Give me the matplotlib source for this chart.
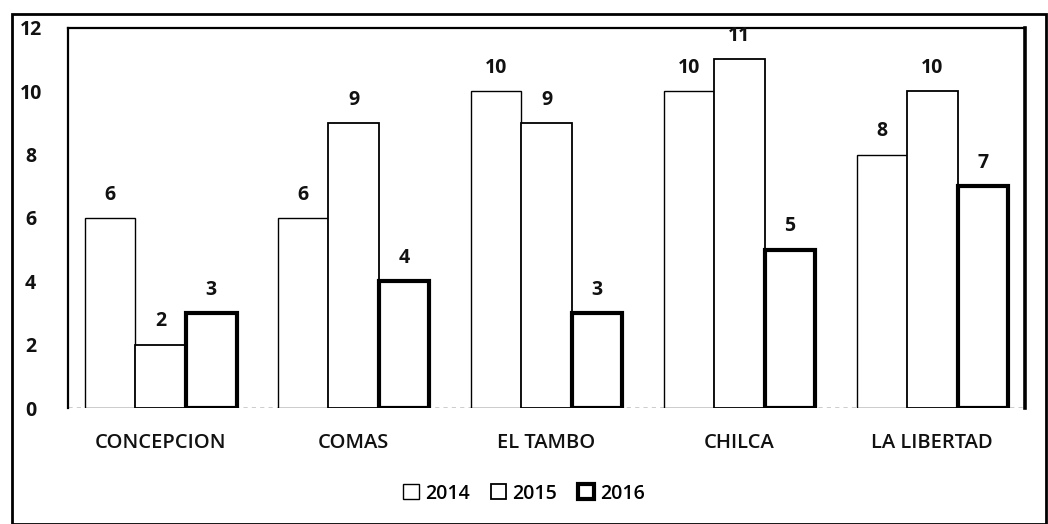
import numpy as np
import matplotlib
matplotlib.use("Agg")
from matplotlib import pyplot as plt
from matplotlib.patches import Rectangle

plt.rcParams['font.family'] = ['Open Sans', 'DejaVu Sans']

categories = ["CONCEPCION", "COMAS", "EL TAMBO", "CHILCA", "LA LIBERTAD"]
years = ["2014", "2015", "2016"]
v2014 = [6, 6, 10, 10, 8]
v2015 = [2, 9, 9, 11, 10]
v2016 = [3, 4, 3, 5, 7]
yticks = [0, 2, 4, 6, 8, 10, 12]

series = [v2014, v2015, v2016]
edge_widths = [1.0, 1.3, 3.0]

fig = plt.figure(figsize=(10.48, 5.24), dpi=100)
ax = fig.add_axes([0.065, 0.221, 0.913, 0.726])

x = np.arange(len(categories))
w = 0.262
for i, vals in enumerate(series):
    pos = x + (i - 1) * w
    ax.bar(pos, vals, w, color="white", edgecolor="black",
           linewidth=edge_widths[i], label=years[i], zorder=3)
    for p, v in zip(pos, vals):
        ax.text(p, v + 0.42, str(v), ha="center", va="bottom",
                fontsize=14, fontweight="bold", color="#111111")

ax.set_xlim(-0.48, len(categories) - 0.52)
ax.set_ylim(0, 12)
ax.set_xticks(x)
ax.set_xticklabels(categories, fontsize=14.5, fontweight="semibold", color="#111111")
ax.set_yticks(yticks)
ax.set_yticklabels([str(t) for t in yticks], fontsize=14, fontweight="bold", color="#111111")
ax.tick_params(axis="both", length=0)
ax.tick_params(axis="x", pad=18)
ax.tick_params(axis="y", pad=27)
for lab in ax.get_yticklabels():
    lab.set_horizontalalignment("center")

ax.spines["bottom"].set_visible(False)
ax.axhline(0, color="black", linewidth=1.0, linestyle=(0, (3, 3)), zorder=2)
ax.spines["left"].set_linewidth(1.6)
ax.spines["top"].set_linewidth(1.6)
ax.spines["right"].set_linewidth(2.6)

leg = fig.legend(loc="center", bbox_to_anchor=(0.5, 0.058), ncol=3, frameon=False,
                 handlelength=0.8, handleheight=0.8,
                 handletextpad=0.3, columnspacing=1.1,
                 prop={"weight": "semibold", "size": 14})

# outer border of the scanned figure
fig.patches.append(Rectangle((0.011, 0.0), 0.987, 0.973, transform=fig.transFigure,
                             fill=False, edgecolor="black", linewidth=2.0))

fig.savefig("out.png", dpi=100)
